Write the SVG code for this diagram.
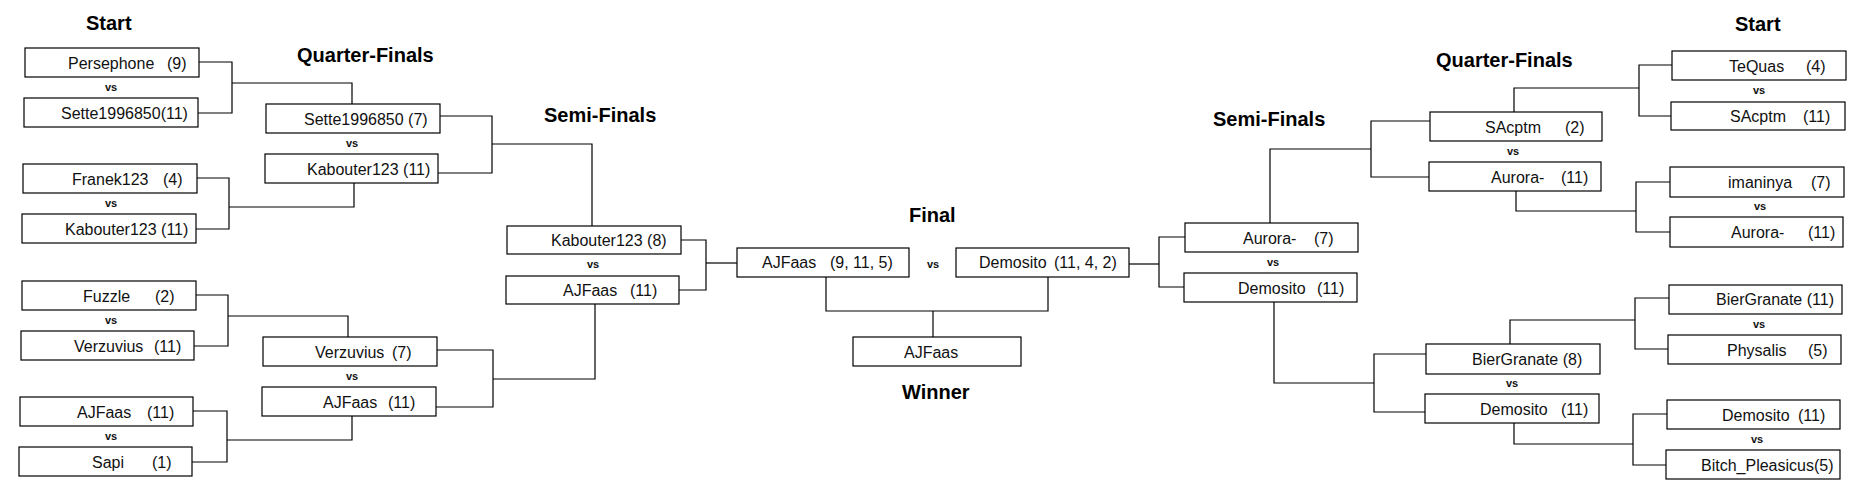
<svg xmlns="http://www.w3.org/2000/svg" width="1873" height="487" viewBox="0 0 1873 487">
<style>
.bg{fill:#ffffff}
.box{fill:#ffffff;stroke:#000;stroke-width:1.2}
.lbl{font-family:"Liberation Sans",Arial,sans-serif;font-size:16px;fill:#111}
.vs{font-family:"Liberation Sans",Arial,sans-serif;font-size:11px;font-weight:bold;fill:#111;text-anchor:middle}
.title{font-family:"Liberation Sans",Arial,sans-serif;font-size:20px;font-weight:bold;fill:#000}
.conn path{fill:none;stroke:#000;stroke-width:1.2}
</style>
<rect class="bg" x="0" y="0" width="1873" height="487"/>

<g id="titles">
<text class="title" x="86" y="30">Start</text>
<text class="title" x="297" y="62">Quarter-Finals</text>
<text class="title" x="544" y="122">Semi-Finals</text>
<text class="title" x="909" y="222">Final</text>
<text class="title" x="902" y="399">Winner</text>
<text class="title" x="1213" y="126">Semi-Finals</text>
<text class="title" x="1436" y="67">Quarter-Finals</text>
<text class="title" x="1735" y="31">Start</text>
</g>

<g id="connectors" class="conn">
<path d="M199,62 H232 V113 H198"/>
<path d="M232,83 H352 V104"/>
<path d="M197,178 H229 V229 H196"/>
<path d="M229,207 H354 V183"/>
<path d="M196,295 H228 V346 H194"/>
<path d="M228,316 H348 V337"/>
<path d="M193,411 H227 V462 H192"/>
<path d="M227,440 H352 V416"/>
<path d="M440,116 H492 V173 H438"/>
<path d="M492,144 H592 V226"/>
<path d="M437,350 H493 V407 H436"/>
<path d="M493,379 H595 V304"/>
<path d="M681,240 H706 V290 H679"/>
<path d="M706,263 H737"/>
<path d="M826,277 V311 H1048 V277"/>
<path d="M933,311 V337"/>
<path d="M1129,264 H1159"/>
<path d="M1185,237 H1159 V287 H1184"/>
<path d="M1270,223 V149 H1371"/>
<path d="M1430,121 H1371 V177 H1429"/>
<path d="M1274,302 V383 H1374"/>
<path d="M1426,354 H1374 V412 H1425"/>
<path d="M1514,112 V88 H1639"/>
<path d="M1672,65 H1639 V116 H1671"/>
<path d="M1516,191 V211 H1636"/>
<path d="M1670,182 H1636 V232 H1670"/>
<path d="M1510,344 V320 H1635"/>
<path d="M1669,298 H1635 V349 H1668"/>
<path d="M1514,423 V444 H1633"/>
<path d="M1667,414 H1633 V465 H1666"/>
</g>

<g id="vs-labels">
<text class="vs" x="111" y="91">vs</text>
<text class="vs" x="111" y="207">vs</text>
<text class="vs" x="111" y="324">vs</text>
<text class="vs" x="111" y="440">vs</text>
<text class="vs" x="352" y="147">vs</text>
<text class="vs" x="352" y="380">vs</text>
<text class="vs" x="593" y="268">vs</text>
<text class="vs" x="933" y="268">vs</text>
<text class="vs" x="1273" y="266">vs</text>
<text class="vs" x="1513" y="155">vs</text>
<text class="vs" x="1512" y="387">vs</text>
<text class="vs" x="1759" y="94">vs</text>
<text class="vs" x="1760" y="210">vs</text>
<text class="vs" x="1759" y="328">vs</text>
<text class="vs" x="1757" y="443">vs</text>
</g>

<g id="n-persephone"><rect class="box" x="25" y="48" width="174" height="29"/><text class="lbl" y="69"><tspan x="68">Persephone</tspan><tspan x="167">(9)</tspan></text></g>
<g id="n-sette-r1"><rect class="box" x="24" y="98" width="174" height="29"/><text class="lbl" x="61" y="119">Sette1996850(11)</text></g>
<g id="n-franek"><rect class="box" x="23" y="164" width="174" height="29"/><text class="lbl" y="185"><tspan x="72">Franek123</tspan><tspan x="163">(4)</tspan></text></g>
<g id="n-kabouter-r1"><rect class="box" x="22" y="214" width="174" height="29"/><text class="lbl" x="65" y="235">Kabouter123 (11)</text></g>
<g id="n-fuzzle"><rect class="box" x="22" y="281" width="174" height="29"/><text class="lbl" y="302"><tspan x="83">Fuzzle</tspan><tspan x="155">(2)</tspan></text></g>
<g id="n-verzuvius-r1"><rect class="box" x="21" y="331" width="173" height="29"/><text class="lbl" y="352"><tspan x="74">Verzuvius</tspan><tspan x="154">(11)</tspan></text></g>
<g id="n-ajfaas-r1"><rect class="box" x="20" y="397" width="173" height="29"/><text class="lbl" y="418"><tspan x="77">AJFaas</tspan><tspan x="147">(11)</tspan></text></g>
<g id="n-sapi"><rect class="box" x="19" y="447" width="173" height="29"/><text class="lbl" y="468"><tspan x="92">Sapi</tspan><tspan x="152">(1)</tspan></text></g>

<g id="n-sette-qf"><rect class="box" x="266" y="104" width="174" height="29"/><text class="lbl" x="304" y="125">Sette1996850 (7)</text></g>
<g id="n-kabouter-qf"><rect class="box" x="265" y="154" width="173" height="29"/><text class="lbl" x="307" y="175">Kabouter123 (11)</text></g>
<g id="n-verzuvius-qf"><rect class="box" x="263" y="337" width="174" height="29"/><text class="lbl" y="358"><tspan x="315">Verzuvius</tspan><tspan x="392">(7)</tspan></text></g>
<g id="n-ajfaas-qf"><rect class="box" x="262" y="387" width="174" height="29"/><text class="lbl" y="408"><tspan x="323">AJFaas</tspan><tspan x="388">(11)</tspan></text></g>

<g id="n-kabouter-sf"><rect class="box" x="507" y="226" width="174" height="28"/><text class="lbl" x="551" y="246">Kabouter123 (8)</text></g>
<g id="n-ajfaas-sf"><rect class="box" x="506" y="276" width="173" height="28"/><text class="lbl" y="296"><tspan x="563">AJFaas</tspan><tspan x="630">(11)</tspan></text></g>

<g id="n-ajfaas-final"><rect class="box" x="737" y="248" width="172" height="29"/><text class="lbl" y="268"><tspan x="762">AJFaas</tspan><tspan x="830">(9, 11, 5)</tspan></text></g>
<g id="n-demosito-final"><rect class="box" x="956" y="248" width="173" height="29"/><text class="lbl" y="268"><tspan x="979">Demosito</tspan><tspan x="1054">(11, 4, 2)</tspan></text></g>
<g id="n-winner"><rect class="box" x="853" y="337" width="168" height="29"/><text class="lbl" x="904" y="358">AJFaas</text></g>

<g id="n-aurora-sf"><rect class="box" x="1185" y="223" width="173" height="29"/><text class="lbl" y="244"><tspan x="1243">Aurora-</tspan><tspan x="1314">(7)</tspan></text></g>
<g id="n-demosito-sf"><rect class="box" x="1184" y="273" width="173" height="29"/><text class="lbl" y="294"><tspan x="1238">Demosito</tspan><tspan x="1317">(11)</tspan></text></g>

<g id="n-sacptm-qf"><rect class="box" x="1430" y="112" width="172" height="29"/><text class="lbl" y="133"><tspan x="1485">SAcptm</tspan><tspan x="1565">(2)</tspan></text></g>
<g id="n-aurora-qf"><rect class="box" x="1429" y="162" width="172" height="29"/><text class="lbl" y="183"><tspan x="1491">Aurora-</tspan><tspan x="1561">(11)</tspan></text></g>
<g id="n-biergranate-qf"><rect class="box" x="1426" y="344" width="174" height="30"/><text class="lbl" x="1472" y="365">BierGranate (8)</text></g>
<g id="n-demosito-qf"><rect class="box" x="1425" y="394" width="174" height="29"/><text class="lbl" y="415"><tspan x="1480">Demosito</tspan><tspan x="1561">(11)</tspan></text></g>

<g id="n-tequas"><rect class="box" x="1672" y="51" width="174" height="29"/><text class="lbl" y="72"><tspan x="1729">TeQuas</tspan><tspan x="1806">(4)</tspan></text></g>
<g id="n-sacptm-r1"><rect class="box" x="1671" y="102" width="174" height="28"/><text class="lbl" y="122"><tspan x="1730">SAcptm</tspan><tspan x="1803">(11)</tspan></text></g>
<g id="n-imaninya"><rect class="box" x="1670" y="167" width="174" height="30"/><text class="lbl" y="188"><tspan x="1728">imaninya</tspan><tspan x="1811">(7)</tspan></text></g>
<g id="n-aurora-r1"><rect class="box" x="1670" y="217" width="173" height="30"/><text class="lbl" y="238"><tspan x="1731">Aurora-</tspan><tspan x="1808">(11)</tspan></text></g>
<g id="n-biergranate-r1"><rect class="box" x="1669" y="285" width="173" height="29"/><text class="lbl" x="1716" y="305">BierGranate (11)</text></g>
<g id="n-physalis"><rect class="box" x="1668" y="335" width="173" height="29"/><text class="lbl" y="356"><tspan x="1727">Physalis</tspan><tspan x="1808">(5)</tspan></text></g>
<g id="n-demosito-r1"><rect class="box" x="1667" y="400" width="173" height="29"/><text class="lbl" y="421"><tspan x="1722">Demosito</tspan><tspan x="1798">(11)</tspan></text></g>
<g id="n-bitch"><rect class="box" x="1666" y="450" width="174" height="29"/><text class="lbl" x="1701" y="471">Bitch_Pleasicus(5)</text></g>
</svg>
